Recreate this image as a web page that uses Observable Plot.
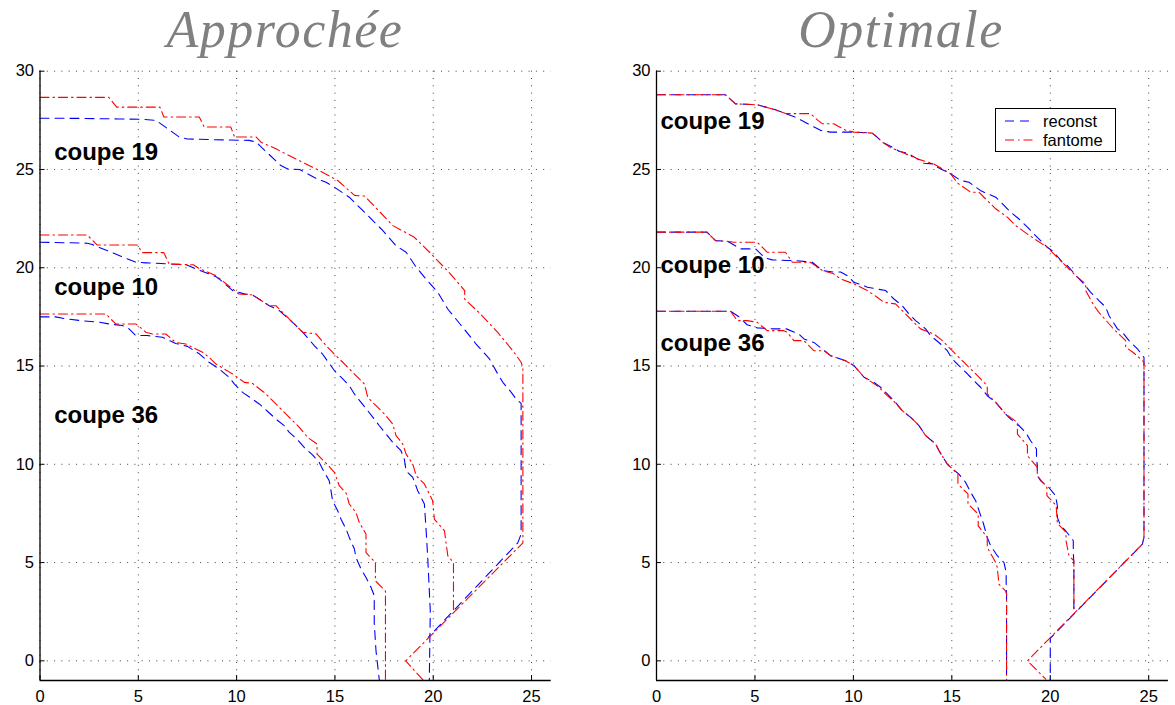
<!DOCTYPE html>
<html>
<head>
<meta charset="utf-8">
<script src="https://cdn.jsdelivr.net/npm/d3@7"></script>
<script src="https://cdn.jsdelivr.net/npm/@observablehq/plot@0.6"></script>
<style>
  body { margin: 0; background: #fff; }
  #page { position: relative; width: 1175px; height: 705px; overflow: hidden; font-family: "Liberation Sans", Arial, sans-serif; }
  .title { position: absolute; top: 0px; width: 400px; text-align: center; font-family: "Liberation Serif", "Times New Roman", serif; font-style: italic; font-size: 52px; line-height: normal; letter-spacing: 1.5px; color: #808080; white-space: nowrap; }
  .panel { position: absolute; top: 60px; }
  #legend { position: absolute; left: 995px; top: 108px; }
</style>
</head>
<body>
<div id="page">
  <div class="title" id="t1" style="left:85px"></div>
  <div class="title" id="t2" style="left:701px"></div>
  <div class="panel" id="p1" style="left:0px"></div>
  <div class="panel" id="p2" style="left:600px"></div>
  <div id="legend"></div>
</div>
<script>
// ---------- titles, ticks, labels ----------
const titles = ["Approchée", "Optimale"];
const seriesNames = ["reconst", "fantome"];
const xTicks = [0, 5, 10, 15, 20, 25];
const yTicks = [0, 5, 10, 15, 20, 25, 30];
const xDomain = [0, 26];
const yDomain = [-1, 30];

// ---------- Approchée (left panel) ----------
const approx19Fantome = [[0,28.67],[3.5,28.67],[3.9,28.17],[6.1,28.17],[6.3,27.67],[8.1,27.67],[8.35,27.16],[9.7,27.16],[9.9,26.65],[11.0,26.65],[11.24,26.39],[12.0,26.05],[13.0,25.54],[14.04,25.03],[15.14,24.44],[16.0,23.68],[16.5,23.65],[17.06,23.08],[17.94,22.15],[19.04,21.55],[19.9,20.7],[20.8,19.77],[21.6,18.84],[21.6,18.4],[22.35,17.7],[23.28,16.71],[24.05,15.78],[24.47,15.19],[24.56,14.9],[24.56,6.0],[18.6,0],[19.5,-1]];
const approx19Reconst = [[0,27.61],[2,27.6],[4,27.57],[5.2,27.55],[5.9,27.5],[7.08,26.65],[7.5,26.55],[9.5,26.5],[10.64,26.48],[11.0,26.39],[11.4,26.0],[12.25,25.2],[12.6,25.03],[13.2,25.0],[14.1,24.52],[14.55,24.35],[14.97,24.1],[15.73,23.59],[16.24,23.08],[16.67,22.66],[17.43,21.9],[18.1,21.13],[18.62,20.79],[19.13,20.03],[19.55,19.52],[20.23,18.75],[20.74,17.9],[21.5,16.97],[22.18,16.12],[22.86,15.36],[23.28,14.6],[23.54,14.17],[23.97,13.66],[24.22,13.32],[24.47,13.1],[24.47,6.45],[24.3,6.0],[19.75,1.2]];
const approx10Fantome = [[0,21.67],[2.4,21.67],[2.9,21.16],[4.95,21.16],[5.2,20.77],[6.3,20.77],[6.57,20.18],[7.8,20.15],[8.1,19.96],[8.95,19.6],[9.7,19.0],[10.1,18.67],[10.8,18.62],[11.66,18.07],[12.0,18.07],[12.68,17.39],[13.36,16.72],[14.04,16.63],[14.63,15.95],[15.14,15.44],[15.57,15.02],[16.07,14.51],[16.5,14.09],[16.67,13.41],[17.0,13.07],[17.52,12.56],[17.94,12.05],[18.11,11.46],[18.45,11.03],[18.62,10.52],[18.96,10.01],[19.13,9.42],[19.55,9.0],[19.97,8.15],[20.06,7.2],[20.57,6.62],[20.74,5.35],[21.03,5.0],[21.03,2.55]];
const approx10Reconst = [[0,21.3],[2.4,21.25],[2.66,21.18],[4.87,20.28],[5.38,20.25],[7.42,20.16],[7.93,19.94],[8.95,19.55],[9.11,19.43],[9.8,18.84],[10.39,18.67],[10.8,18.62],[11.66,18.07],[12.17,17.82],[12.93,17.14],[13.36,16.72],[13.95,16.04],[14.37,15.61],[14.97,14.77],[15.31,14.43],[15.73,14.0],[15.99,13.58],[16.33,13.15],[16.67,12.73],[17.26,11.96],[17.6,11.54],[17.94,11.12],[18.36,10.69],[18.53,10.26],[18.62,9.67],[18.96,9.33],[19.21,8.66],[19.55,7.98],[19.64,6.62],[19.72,5.26],[19.85,2.55],[19.8,-1]];
const approx36Fantome = [[0,17.65],[3.35,17.65],[3.85,17.14],[4.87,17.14],[5.13,16.94],[5.38,16.72],[5.72,16.63],[6.4,16.63],[6.9,16.2],[7.42,16.12],[7.76,15.95],[8.27,15.7],[8.6,15.44],[8.95,15.1],[9.79,14.6],[10.39,14.17],[10.8,14.12],[11.4,13.66],[11.75,13.32],[12.34,12.73],[12.68,12.39],[13.19,11.88],[13.61,11.37],[14.09,11.03],[14.09,10.52],[14.63,9.97],[14.97,9.59],[15.22,8.91],[15.57,8.53],[15.73,7.98],[16.07,7.55],[16.24,7.04],[16.58,6.45],[16.58,5.5],[17.06,5.0],[17.06,4.07],[17.57,3.55],[17.57,-1]];
const approx36Reconst = [[0,17.5],[0.8,17.5],[1.31,17.4],[2.07,17.31],[3.0,17.23],[3.51,17.14],[4.19,17.06],[4.53,16.89],[4.87,16.55],[5.46,16.55],[6.23,16.46],[6.9,16.15],[7.5,16.0],[8.1,15.62],[8.6,15.19],[9.11,14.85],[9.62,14.43],[9.88,14.09],[10.3,13.66],[10.8,13.32],[11.15,13.07],[11.57,12.7],[12.0,12.3],[12.42,11.97],[12.68,11.62],[13.1,11.25],[13.44,10.86],[13.86,10.48],[14.2,10.1],[14.46,9.6],[14.71,9.16],[14.8,8.66],[14.88,8.15],[15.14,7.64],[15.31,7.21],[15.57,6.7],[15.73,6.28],[15.99,5.69],[16.07,5.26],[16.33,4.67],[16.58,4.24],[16.84,3.73],[17.0,3.31],[17.0,1.95],[17.09,0.5],[17.26,-1]];
const approxLabels = [
  {x: 0.72, y: 25.5, text: "coupe 19"},
  {x: 0.72, y: 18.62, text: "coupe 10"},
  {x: 0.72, y: 12.08, text: "coupe 36"}
];

// ---------- Optimale (right panel) ----------
const optim19Fantome = [[0,28.8],[3.5,28.8],[4.01,28.34],[5.12,28.29],[5.8,28.1],[6.6,27.84],[7.82,27.84],[8.2,27.5],[8.42,27.33],[9.0,27.33],[9.6,27.0],[10.03,26.9],[10.96,26.85],[11.2,26.65],[11.47,26.39],[11.9,26.1],[12.3,25.95],[13.25,25.54],[14.09,25.28],[14.94,24.78],[15.3,24.3],[15.96,23.84],[16.38,23.84],[16.8,23.42],[17.23,23.0],[17.82,22.57],[18.24,22.15],[19.0,21.6],[19.85,21.04],[20.6,20.28],[21.38,19.52],[21.8,19.18],[21.8,18.84],[22.22,18.07],[22.47,17.73],[23.2,16.9],[23.83,16.29],[23.83,15.95],[24.2,15.7],[24.76,15.2],[24.76,6.28],[24.68,5.94],[18.84,0],[19.77,-0.93]];
const optim19Reconst = [[0,28.8],[3.5,28.8],[4.01,28.34],[5.12,28.29],[6.0,28.05],[7.06,27.66],[8.33,26.99],[8.84,26.9],[10.03,26.9],[10.96,26.85],[11.2,26.65],[11.47,26.39],[11.98,26.14],[12.31,25.93],[12.74,25.83],[13.25,25.54],[13.58,25.32],[14.09,25.28],[14.26,25.12],[14.94,24.78],[15.45,24.44],[15.87,24.35],[16.5,23.9],[17.23,23.59],[17.65,23.17],[17.99,22.83],[18.41,22.48],[18.84,22.07],[19.17,21.72],[19.51,21.38],[19.85,21.04],[20.19,20.79],[20.61,20.28],[20.87,20.11],[21.38,19.52],[21.71,19.18],[22.05,18.75],[22.47,18.33],[22.82,17.99],[22.98,17.57],[23.41,16.89],[23.66,16.72],[24.0,16.29],[24.43,15.87],[24.76,15.44],[24.76,6.28],[24.68,5.94],[20.0,1.15],[20.0,-1]];
const optim10Fantome = [[0,21.81],[2.56,21.81],[3.0,21.38],[3.6,21.35],[3.93,21.3],[5.12,21.3],[5.62,20.79],[6.55,20.79],[6.9,20.28],[7.82,20.28],[8.42,19.86],[9.0,19.69],[9.35,19.43],[10.03,19.18],[10.37,19.01],[10.71,18.84],[11.21,18.5],[11.55,18.24],[12.14,18.16],[12.48,17.82],[13.07,17.22],[13.41,16.89],[14.09,16.63],[14.52,16.29],[15.02,15.78],[15.36,15.44],[15.96,14.85],[16.3,14.51],[16.8,14.0],[16.8,13.58],[17.23,13.15],[17.73,12.56],[18.33,12.13],[18.33,11.54],[18.84,10.95],[18.84,10.44],[19.34,9.84],[19.34,9.42],[19.83,8.82],[19.83,8.4],[20.3,7.9],[20.36,7.0],[20.8,6.53],[20.8,6.11],[20.95,5.35],[21.2,5.09],[21.2,2.5]];
const optim10Reconst = [[0,21.81],[2.56,21.81],[3.0,21.38],[3.6,21.35],[4.27,20.96],[5.03,20.96],[5.5,20.5],[5.88,20.4],[6.64,20.37],[6.98,20.37],[7.91,20.28],[8.42,19.86],[9.0,19.78],[9.35,19.78],[9.69,19.6],[10.03,19.26],[10.54,19.09],[10.71,19.01],[11.21,18.92],[11.64,18.84],[12.06,18.41],[12.48,18.07],[12.82,17.65],[13.16,17.31],[13.67,16.89],[13.92,16.55],[14.43,16.12],[14.77,15.78],[15.02,15.36],[15.36,15.02],[15.79,14.6],[16.12,14.26],[16.46,13.92],[16.8,13.49],[17.23,13.15],[17.73,12.56],[17.99,12.3],[18.33,12.05],[18.75,11.62],[19.0,11.2],[19.3,10.78],[19.3,10.26],[19.34,10.0],[19.34,9.42],[19.51,9.16],[19.93,8.82],[20.27,8.4],[20.36,7.89],[20.36,7.3],[20.53,6.87],[20.78,6.62],[21.17,6.11],[21.17,5.52],[21.2,4.92],[21.2,2.5]];
const optim36Fantome = [[0,17.79],[3.76,17.79],[4.1,17.31],[4.61,17.31],[5.12,17.22],[5.62,16.8],[6.47,16.8],[6.64,16.72],[6.98,16.29],[7.49,16.29],[7.99,15.78],[8.5,15.78],[8.84,15.53],[9.6,15.27],[10.03,15.02],[10.54,14.43],[11.21,14.0],[11.72,13.49],[12.06,13.2],[12.48,12.73],[12.91,12.39],[13.33,11.97],[13.67,11.46],[14.18,11.03],[14.35,10.69],[14.77,10.01],[15.31,9.5],[15.31,8.99],[15.82,8.49],[15.82,7.98],[16.34,7.47],[16.34,6.87],[16.8,6.28],[16.8,5.77],[17.23,5.0],[17.31,4.75],[17.39,3.9],[17.73,3.56],[17.78,3.39],[17.78,-1]];
const optim36Reconst = [[0,17.79],[3.76,17.79],[4.2,17.5],[4.6,17.1],[5.12,16.94],[5.96,16.89],[6.6,16.89],[7.23,16.63],[7.49,16.38],[7.99,16.2],[8.42,15.87],[8.84,15.53],[9.6,15.27],[10.03,15.02],[10.54,14.43],[11.0,14.2],[11.38,13.92],[11.72,13.58],[12.06,13.24],[12.48,12.73],[12.91,12.39],[13.33,11.97],[13.67,11.46],[14.18,11.03],[14.35,10.69],[14.77,10.01],[14.94,9.84],[15.36,9.5],[15.7,9.08],[15.96,8.57],[16.21,8.15],[16.38,7.64],[16.6,7.0],[16.8,6.28],[16.97,5.86],[17.31,5.35],[17.65,5.0],[17.76,4.49],[17.76,3.9],[17.78,3.39],[17.78,-1]];
const optimLabels = [
  {x: 0.2, y: 27.07, text: "coupe 19"},
  {x: 0.2, y: 19.72, text: "coupe 10"},
  {x: 0.2, y: 15.78, text: "coupe 36"}
];

// ---------- styles ----------
const reconstStyle = {stroke: "#0000ff", strokeWidth: 1.1, strokeDasharray: "9,6"};
const fantomeStyle = {stroke: "#ff0000", strokeWidth: 1.1, strokeDasharray: "9,4,1.5,4"};

function panel(reconstList, fantomeList, labels, marginLeft, marginRight) {
  const W = 575, H = 645;
  const marks = [
    Plot.gridX(xTicks, {stroke: "#000", strokeOpacity: 0.75, strokeWidth: 1, strokeDasharray: "1,6.3"}),
    Plot.gridY(yTicks, {stroke: "#000", strokeOpacity: 0.75, strokeWidth: 1, strokeDasharray: "1,6.3"}),
    Plot.axisX(xTicks, {tickSize: 0, tickPadding: 10, fontSize: 16.5, label: null, fill: "#000"}),
    Plot.axisY(yTicks, {tickSize: 0, tickPadding: 6, fontSize: 16.5, label: null, fill: "#000"}),
    Plot.tickX(xTicks, {x: d => d, stroke: "#000", insetTop: (H - 10.7 - 25) - 5}),
    Plot.tickY(yTicks, {y: d => d, stroke: "#000", insetRight: (W - marginLeft - marginRight) - 5})
  ];
  for (const r of reconstList) marks.push(Plot.line(r, {x: d => d[0], y: d => d[1], ...reconstStyle}));
  for (const f of fantomeList) marks.push(Plot.line(f, {x: d => d[0], y: d => d[1], ...fantomeStyle}));
  marks.push(Plot.ruleX([xDomain[0]], {stroke: "#000", strokeWidth: 1.3}));
  marks.push(Plot.ruleY([yDomain[0]], {stroke: "#000", strokeWidth: 1.3}));
  marks.push(Plot.text(labels, {x: "x", y: "y", text: "text", textAnchor: "start", lineAnchor: "bottom", fontSize: 24, fontWeight: "bold", fill: "#000"}));
  return Plot.plot({
    width: W, height: H,
    marginLeft, marginRight, marginTop: 10.7, marginBottom: 25,
    x: {domain: xDomain},
    y: {domain: yDomain},
    style: {fontFamily: "'Liberation Sans', Arial, sans-serif", fontSize: "16.5px", background: "transparent", overflow: "visible", color: "#000"},
    marks
  });
}

document.getElementById("t1").textContent = titles[0];
document.getElementById("t2").textContent = titles[1];

document.getElementById("p1").appendChild(panel(
  [approx19Reconst, approx10Reconst, approx36Reconst],
  [approx19Fantome, approx10Fantome, approx36Fantome],
  approxLabels, 39.5, 24.3));
document.getElementById("p2").appendChild(panel(
  [optim19Reconst, optim10Reconst, optim36Reconst],
  [optim19Fantome, optim10Fantome, optim36Fantome],
  optimLabels, 56, 7.1));

// ---------- legend (right panel) ----------
const lg = d3.select("#legend").append("svg").attr("width", 121).attr("height", 44)
  .style("font-family", "'Liberation Sans', Arial, sans-serif");
lg.append("rect").attr("x", 0.5).attr("y", 0.5).attr("width", 120).attr("height", 43)
  .attr("fill", "#fff").attr("stroke", "#000").attr("stroke-width", 1);
const legendStyles = [reconstStyle, fantomeStyle];
seriesNames.forEach((name, i) => {
  const cy = 13 + i * 19;
  const s = legendStyles[i];
  lg.append("line").attr("x1", 10).attr("x2", 38).attr("y1", cy).attr("y2", cy)
    .attr("stroke", s.stroke).attr("stroke-width", s.strokeWidth).attr("stroke-dasharray", s.strokeDasharray);
  lg.append("text").attr("x", 48).attr("y", cy).attr("dy", "0.35em")
    .attr("font-size", 16.5).attr("fill", "#000").text(name);
});
</script>
</body>
</html>
